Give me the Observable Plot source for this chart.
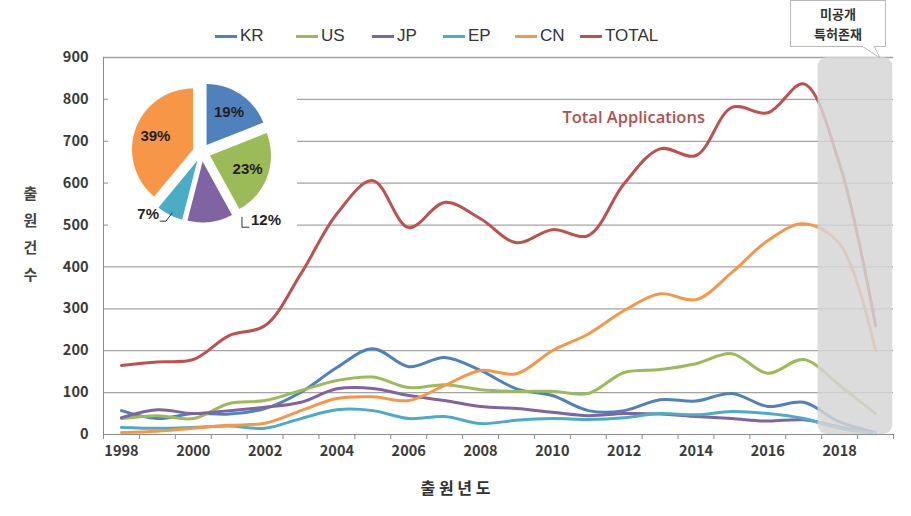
<!DOCTYPE html>
<html><head><meta charset="utf-8">
<script src="https://cdn.jsdelivr.net/npm/d3@7"></script>
<script src="https://cdn.jsdelivr.net/npm/@observablehq/plot@0.6"></script>
<style>
body{margin:0;background:#fff;}
#wrap{position:relative;width:911px;height:516px;overflow:hidden;font-family:"Noto Sans CJK KR","Liberation Sans",sans-serif;}
#legend{height:50px;position:relative;}
#legend .item{position:absolute;top:26px;display:flex;align-items:center;gap:3px;font-family:"Liberation Sans",sans-serif;font-size:17px;color:#333;}
#legend .sw{width:22px;height:3px;}
#callout{position:absolute;left:790px;top:0px;width:96px;height:47px;border:1px solid #b8b8b8;background:#fff;box-sizing:border-box;text-align:center;font-size:13px;font-weight:bold;color:#333;line-height:20px;padding-top:3px;}
#tail{position:absolute;left:860px;top:46px;}
#pie{position:absolute;left:108px;top:59px;}
</style></head><body>
<div id="wrap">
  <div id="legend"></div>
  <div id="chart"></div>
  <div id="callout">미공개<br>특허존재</div>
  <svg id="tail" width="30" height="14"><polygon points="2,0 14,0 20,12" fill="#fff" stroke="#b8b8b8"/><rect x="3" y="-1" width="10" height="2" fill="#fff"/></svg>
  <div id="pie"></div>
</div>
<script>
// ---- data ----
const years = [1998,1999,2000,2001,2002,2003,2004,2005,2006,2007,2008,2009,2010,2011,2012,2013,2014,2015,2016,2017,2018,2019];
const series = ["KR","US","JP","EP","CN","TOTAL"];
const colors = ["#4F81BD","#9BBB59","#8064A2","#4BACC6","#F79646","#C0504D"];
const KR    = [57,38,50,49,62,101,160,205,162,184,153,109,93,57,57,83,80,98,67,77,30,5];
const US    = [38,45,38,74,81,105,129,137,112,119,107,103,103,98,148,155,169,193,146,179,117,50];
const JP    = [40,59,50,57,65,77,109,110,93,81,67,62,53,45,50,49,43,38,32,35,18,4];
const EP    = [17,15,17,20,15,38,59,57,38,43,26,34,38,36,40,50,47,55,50,38,15,3];
const CN    = [5,8,15,22,27,57,86,90,81,117,153,145,200,240,296,336,322,387,463,503,455,200];
const TOTAL = [165,173,179,236,260,384,527,606,494,554,515,458,489,475,599,682,666,781,768,837,645,260];
const yTicks = [0,100,200,300,400,500,600,700,800,900];
const xLabelYears = [1998,2000,2002,2004,2006,2008,2010,2012,2014,2016,2018];
const pieLabels = ["KR","US","JP","EP","CN"];
const pieShares = [19,23,12,7,39];
const unpublished = [{from:2017.4, to:2019.48}];
const annotation = [{year:2010.28, value:756, text:"Total Applications"}];
const yTitle = "출\n원\n건\n수";
const xTitle = "출 원 년 도";

// ---- legend ----
const legendLeft = [215,296,372,443,515,580];
const legend = document.getElementById("legend");
series.forEach((s,i)=>{
  const it = document.createElement("div"); it.className="item";
  it.style.left = legendLeft[i]+"px";
  it.innerHTML = `<span class="sw" style="background:${colors[i]}"></span><span>${s}</span>`;
  legend.appendChild(it);
});

// ---- main chart ----
const allValues = [KR,US,JP,EP,CN,TOTAL];
const table = series.flatMap((s,i)=>allValues[i].map((v,j)=>({series:s, year:years[j], value:v})));
const boundaries = years.map(y=>y-0.5).concat([years[years.length-1]+0.5]);
const font = "'Noto Sans CJK KR','Liberation Sans',sans-serif";

const chart = Plot.plot({
  width:911, height:466,
  marginLeft:103, marginRight:18, marginTop:7, marginBottom:82,
  x:{domain:[boundaries[0], boundaries[boundaries.length-1]]},
  y:{domain:[0,900]},
  color:{domain:series, range:colors},
  style:{fontFamily:font, background:"white", overflow:"visible"},
  marks:[
    Plot.ruleY(yTicks.filter(d=>d>0), {stroke:"#a3a3a3", strokeWidth:1.3}),
    Plot.axisY({ticks:yTicks, tickSize:0, tickPadding:15, fontSize:14.5, fontWeight:"bold", fill:"#3a3a3a", label:null}),
    Plot.axisX({ticks:boundaries, tickSize:5, tickFormat:()=>"", stroke:"#8c8c8c", label:null}),
    Plot.axisX({ticks:xLabelYears, tickSize:0, tickPadding:11, tickFormat:d=>String(d), fontSize:14.5, fontWeight:"bold", fill:"#3a3a3a", label:null}),
    Plot.ruleX([boundaries[0]], {stroke:"#8c8c8c"}),
    Plot.ruleY([0], {stroke:"#8c8c8c"}),
    Plot.line(table, {x:"year", y:"value", stroke:"series", z:"series", curve:"catmull-rom", strokeWidth:3, strokeLinecap:"round", strokeLinejoin:"round"}),
    Plot.rect(unpublished, {x1:"from", x2:"to", y1:0, y2:900, fill:"#d5d5d5", fillOpacity:0.84, rx:9}),
    Plot.text(annotation, {x:"year", y:"value", text:"text", textAnchor:"start", fill:"#b5504e", fontSize:16.5, fontWeight:600, fontFamily:"'Open Sans',sans-serif"}),
    Plot.text([yTitle], {frameAnchor:"left", dx:-73, dy:-15, textAnchor:"middle", lineHeight:1.8, fontSize:15, fontWeight:"bold", fill:"#444"}),
    Plot.text([xTitle], {frameAnchor:"bottom", dx:-43, dy:59, textAnchor:"middle", fontSize:16, fontWeight:"bold", fill:"#333"})
  ]
});
document.getElementById("chart").appendChild(chart);

// ---- pie inset ----
const pw=189, ph=181, cx=93, cy=93, r=61, off=9;
const arcs = d3.pie().sort(null).value(d=>d)(pieShares);
const slicePts = arcs.flatMap((a,i)=>{
  const mid=(a.startAngle+a.endAngle)/2;
  const ox=cx+off*Math.sin(mid), oy=cy-off*Math.cos(mid);
  const n=Math.max(4, Math.ceil((a.endAngle-a.startAngle)/0.03));
  const pts=[{k:i, x:ox, y:oy, c:colors[i]}];
  for(let t=0;t<=n;t++){const ang=a.startAngle+(a.endAngle-a.startAngle)*t/n; pts.push({k:i, x:ox+r*Math.sin(ang), y:oy-r*Math.cos(ang), c:colors[i]});}
  return pts;
});
const labelInfo = arcs.map((a,i)=>{
  const mid=(a.startAngle+a.endAngle)/2, share=pieShares[i];
  if(share>=15){ const d=49; return {i, pos:"in", x:cx+d*Math.sin(mid), y:cy-d*Math.cos(mid), text:share+"%"}; }
  const side=Math.sin(mid)>=0?1:-1;
  const ax=cx+side*0.68*r, ay=cy+Math.abs(Math.cos(mid))*(r+off)*0.86+8;
  return {i, pos: side>0?"right":"left", side, ax, ay, x: side>0 ? ax+8 : ax-1, y:ay, text:share+"%"};
});
const leaders = labelInfo.filter(d=>d.pos!=="in").flatMap(d=> d.side>0 ? [
  {k:d.i, x:d.ax+6, y:d.ay+7}, {k:d.i, x:d.ax-1, y:d.ay+7}, {k:d.i, x:d.ax-1, y:d.ay-3}
] : [
  {k:d.i, x:d.ax, y:d.ay+7}, {k:d.i, x:d.ax+6, y:d.ay+7}, {k:d.i, x:d.ax+12, y:d.ay-1}
]);
const pieChart = Plot.plot({
  width:pw, height:ph, margin:0,
  x:{domain:[0,pw], range:[0,pw], axis:null},
  y:{domain:[0,ph], range:[0,ph], axis:null},
  style:{background:"white", fontFamily:"'Liberation Sans',sans-serif"},
  marks:[
    Plot.line(slicePts, {x:"x", y:"y", z:"k", fill:"c", stroke:"none"}),
    Plot.line(leaders, {x:"x", y:"y", z:"k", stroke:"#333", strokeWidth:1}),
    Plot.text(labelInfo.filter(d=>d.pos==="in"), {x:"x", y:"y", text:"text", textAnchor:"middle", fontSize:15, fontWeight:"bold", fill:"#1f1f1f"}),
    Plot.text(labelInfo.filter(d=>d.pos==="right"), {x:"x", y:"y", text:"text", textAnchor:"start", fontSize:15, fontWeight:"bold", fill:"#1f1f1f"}),
    Plot.text(labelInfo.filter(d=>d.pos==="left"), {x:"x", y:"y", text:"text", textAnchor:"end", fontSize:15, fontWeight:"bold", fill:"#1f1f1f"})
  ]
});
document.getElementById("pie").appendChild(pieChart);
</script>
</body></html>
